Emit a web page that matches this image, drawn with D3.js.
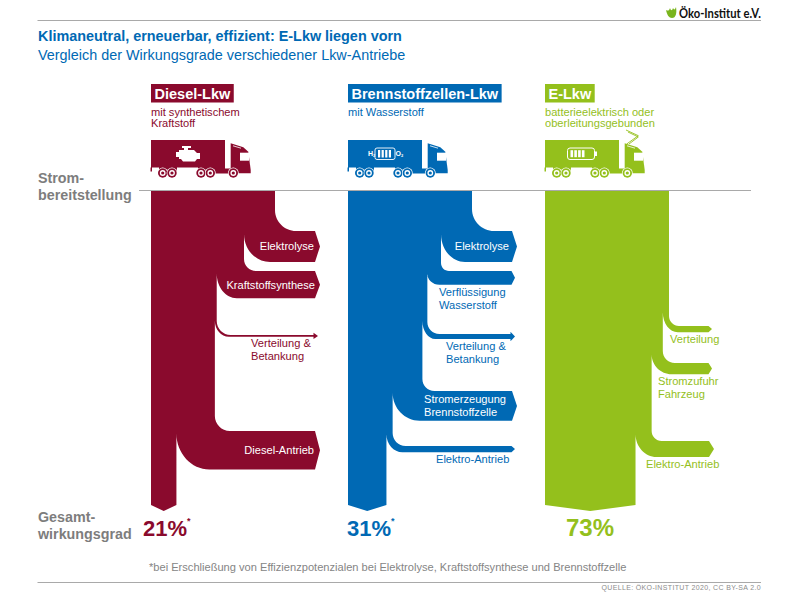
<!DOCTYPE html>
<html>
<head>
<meta charset="utf-8">
<script src="https://cdnjs.cloudflare.com/ajax/libs/d3/7.8.5/d3.min.js"></script>
<style>
html, body { margin: 0; padding: 0; background: #fff; }
svg { display: block; }
text { font-family: "Liberation Sans", Arial, sans-serif; }
</style>
</head>
<body>
<div id="chart"></div>
<script>
// Data. Losses are in percent of the energy put in,
// stages are the distance of each branch from the top of the stream.
const trucks = ['Diesel-Lkw', 'Brennstoffzellen-Lkw', 'E-Lkw'];
const truckNotes = ['mit synthetischem\nKraftstoff', 'mit Wasserstoff', 'batterieelektrisch oder\noberleitungsgebunden'];
const totals = ['21%', '31%', '73%'];

const dieselSteps = ['Elektrolyse', 'Kraftstoffsynthese', 'Verteilung &\nBetankung', 'Diesel-Antrieb'];
const dieselLosses = [25, 22, 1.5, 31];
const dieselStages = [40, 80, 144, 240];

const fuelCellSteps = ['Elektrolyse', 'Verflüssigung\nWasserstoff', 'Verteilung &\nBetankung', 'Stromerzeugung\nBrennstoffzelle', 'Elektro-Antrieb'];
const fuelCellLosses = [25, 11, 4, 24, 5];
const fuelCellStages = [40, 80, 143, 200, 255];

const electricSteps = ['Verteilung', 'Stromzufuhr\nFahrzeug', 'Elektro-Antrieb'];
const electricLosses = [5, 9, 13];
const electricStages = [135, 172, 250];

const width = 799, height = 598;
const blue = '#0069b4', red = '#8a0a2d', green = '#94c01c', grey = '#7d7d7d';

// layout of each column: curve radii [outer, inner x, inner y] and label placing [x, y, anchor, white]
const columns = [
    {
        color: red, steps: dieselSteps, losses: dieselLosses, stages: dieselStages,
        curves: [[21, 26, 28], [12, 20, 25], [14, 14, 16], [15, 33, 36]],
        labels: [[314, 250, 'end', 1], [315, 289, 'end', 1], [251, 347, 'start', 0], [314, 454, 'end', 1]],
        arrow: 2, starred: true, totalSize: 22, totalX: 143, starX: 187, iconKind: 'engine'
    },
    {
        color: blue, steps: fuelCellSteps, losses: fuelCellLosses, stages: fuelCellStages,
        curves: [[22, 24, 28], [8, 12, 11], [12, 13, 18], [12, 27, 28], [13, 16, 18]],
        labels: [[509, 250, 'end', 1], [439, 296, 'start', 0], [446, 350, 'start', 0], [424, 403, 'start', 1], [436, 463, 'start', 0]],
        arrow: 2, starred: true, totalSize: 22, totalX: 347, starX: 391, iconKind: 'fuelcell'
    },
    {
        color: green, steps: electricSteps, losses: electricLosses, stages: electricStages,
        curves: [[10, 15, 20], [12, 20, 20], [10, 21, 23]],
        labels: [[670, 343, 'start', 0], [658, 385, 'start', 0], [646, 468, 'start', 0]],
        arrow: -1, starred: false, totalSize: 24, totalX: 566, iconKind: 'battery'
    }
];

const svg = d3.select('#chart').append('svg')
    .attr('width', width)
    .attr('height', height);

// scales
const xCol = d3.scalePoint().domain(trucks).range([151, 545]);
const flow = d3.scaleLinear().domain([0, 100]).range([0, 124]);
const yStage = d3.scaleLinear().domain([0, 314]).range([191, 505]);

function addText(parent, str, x, y, size, color, opts) {
    opts = opts || {};
    const t = parent.append('text')
        .attr('x', x)
        .attr('y', y)
        .attr('font-size', size)
        .attr('fill', color)
        .attr('font-weight', opts.bold ? 'bold' : 'normal')
        .attr('text-anchor', opts.anchor || 'start');
    str.split('\n').forEach(function (line, i) {
        t.append('tspan')
            .attr('x', x)
            .attr('dy', i === 0 ? 0 : (opts.lead || 13))
            .text(line);
    });
    return t;
}

// header and rules
addText(svg, 'Klimaneutral, erneuerbar, effizient: E-Lkw liegen vorn', 38, 40.5, 14.4, blue, { bold: true });
addText(svg, 'Vergleich der Wirkungsgrade verschiedener Lkw-Antriebe', 38, 60, 14.4, blue);

svg.append('line').attr('x1', 37.5).attr('x2', 761).attr('y1', 20.5).attr('y2', 20.5).attr('stroke', '#a9a9a9').attr('stroke-width', 1);
svg.append('line').attr('x1', 139).attr('x2', 751).attr('y1', 190.5).attr('y2', 190.5).attr('stroke', '#a9a9a9').attr('stroke-width', 1);
svg.append('line').attr('x1', 37.5).attr('x2', 761).attr('y1', 582.5).attr('y2', 582.5).attr('stroke', '#a9a9a9').attr('stroke-width', 1);

// logo
svg.append('path')
    .attr('d', 'M666,10 C667,15 669,18 672,18 C676,18 677,13 676,7 C675,10 674,10 673,8 C672,11 671,11 670,8 C669,11 668,11 666,10 Z')
    .attr('fill', '#7ab51d');
addText(svg, 'Öko-Institut e.V.', 679, 18, 13, '#111', { bold: true })
    .style('font-family', 'Lato')
    .attr('textLength', 82)
    .attr('lengthAdjust', 'spacingAndGlyphs');

// row labels
addText(svg, 'Strom-\nbereitstellung', 38, 183, 14.3, grey, { bold: true, lead: 16.5 });
addText(svg, 'Gesamt-\nwirkungsgrad', 38, 522, 14.3, grey, { bold: true, lead: 16.5 });

// footer
addText(svg, '*bei Erschließung von Effizienzpotenzialen bei Elektrolyse, Kraftstoffsynthese und Brennstoffzelle', 149, 571, 11.1, '#858585');
addText(svg, 'QUELLE: ÖKO-INSTITUT 2020, CC BY-SA 2.0', 761, 590, 7, '#8c8c8c', { anchor: 'end' })
    .style('letter-spacing', '0.35px');

// Outline of one stream: runs down the right side, leaving along each branch and coming back
function streamPath(left, col) {
    const k = 0.55;
    const p = d3.path();
    let x = left + flow(100);
    p.moveTo(left, yStage(0));
    p.lineTo(x, yStage(0));
    col.losses.forEach(function (loss, i) {
        const t = flow(loss);
        const y0 = yStage(col.stages[i]);
        const y1 = y0 + t;
        const c = col.curves[i];
        const r = c[0], rx = c[1], ry = c[2];
        const xIn = x - t;
        const thin = t < 16;
        const tip = left + 169 - (thin ? 2 : 0);
        const shoulder = tip - (thin ? 3.5 : 5);
        p.lineTo(x, y0 - r);
        p.bezierCurveTo(x, y0 - r * (1 - k), x + r * (1 - k), y0, x + r, y0);
        if (i === col.arrow) {
            const headBase = tip - 4.5;
            const head = 2.2;
            p.lineTo(headBase, y0);
            p.lineTo(headBase, y0 - head);
            p.lineTo(tip, (y0 + y1) / 2);
            p.lineTo(headBase, y1 + head);
            p.lineTo(headBase, y1);
        } else {
            p.lineTo(shoulder, y0);
            p.lineTo(tip, (y0 + y1) / 2);
            p.lineTo(shoulder, y1);
        }
        p.lineTo(xIn + rx, y1);
        p.bezierCurveTo(xIn + rx * (1 - k), y1, xIn, y1 - ry * (1 - k), xIn, y1 - ry);
        x = xIn;
    });
    // what is left runs down to the end of the stream
    const bottom = yStage(314);
    p.lineTo(x, bottom);
    p.lineTo((left + x) / 2, bottom + 6);
    p.lineTo(left, bottom);
    p.closePath();
    return p.toString();
}

// Truck silhouette, drawn around the top left corner of the trailer
function drawTruck(g, color, kind) {
    // trailer with rear leg and axle housing
    g.append('path')
        .attr('d', 'M0,0 H74 V27.5 H26 V31 H8 V27.5 H1 V31.5 H-0.5 V27.5 H0 Z')
        .attr('fill', color);
    // chassis under the front of the trailer
    g.append('path')
        .attr('d', 'M47,27 H74 V28.5 H82 V33.5 H47 Z')
        .attr('fill', color);
    // cab
    g.append('path')
        .attr('d', 'M79.7,3.3 L92.3,7.3 L97.3,11.7 L99.7,30 V33.3 H79.7 Z')
        .attr('fill', color);
    g.append('rect').attr('x', 89).attr('y', 12.7).attr('width', 9).attr('height', 8).attr('fill', '#fff');
    g.append('line').attr('x1', 82).attr('x2', 90).attr('y1', 5.8).attr('y2', 8.2).attr('stroke', '#fff').attr('stroke-width', 0.8);
    [11.7, 21, 50, 59.3, 82.3].forEach(function (wx) {
        g.append('circle').attr('cx', wx).attr('cy', 33).attr('r', 5.4).attr('fill', '#fff');
        g.append('circle').attr('cx', wx).attr('cy', 33).attr('r', 4.7).attr('fill', color);
        g.append('circle').attr('cx', wx).attr('cy', 33).attr('r', 2.9).attr('fill', '#fff');
        g.append('circle').attr('cx', wx).attr('cy', 33).attr('r', 1.6).attr('fill', color);
    });
    if (kind === 'engine') {
        g.append('path')
            .attr('d', 'M25,12 H28 V10 H33 V8 H31 V6 H40 V8 H37 V10 H43 L46,13 H49 V19 H46 L44,21.5 H32 L30,19 H28 V17 H25 Z')
            .attr('fill', '#fff');
    } else if (kind === 'fuelcell') {
        g.append('rect').attr('x', 27).attr('y', 8).attr('width', 20).attr('height', 11.5).attr('rx', 2)
            .attr('fill', 'none').attr('stroke', '#fff').attr('stroke-width', 0.9);
        d3.range(4).forEach(function (n) {
            g.append('rect').attr('x', 30 + n * 3.6).attr('y', 10).attr('width', 2.2).attr('height', 7.5).attr('fill', '#fff');
        });
        addText(g, 'H', 20, 16, 7, '#fff', { bold: true });
        addText(g, '2', 25, 17, 4, '#fff', { bold: true });
        addText(g, 'O', 47.5, 16, 7, '#fff', { bold: true });
        addText(g, '2', 53, 17, 4, '#fff', { bold: true });
    } else {
        g.append('rect').attr('x', 22.5).attr('y', 8).attr('width', 27).attr('height', 11.5).attr('rx', 2.5)
            .attr('fill', 'none').attr('stroke', '#fff').attr('stroke-width', 1);
        g.append('rect').attr('x', 50).attr('y', 11.5).attr('width', 2).attr('height', 4.5).attr('fill', '#fff');
        d3.range(4).forEach(function (n) {
            g.append('rect').attr('x', 25.5 + n * 3.8).attr('y', 10.2).attr('width', 2.6).attr('height', 7).attr('fill', '#fff');
        });
        // pantograph
        g.append('path')
            .attr('d', 'M81.7,4 L93.3,-4.3 L81,-10 M84,4 L93.3,-3 L83,-8')
            .attr('fill', 'none').attr('stroke', color).attr('stroke-width', 0.9);
    }
}

// one column per truck type
const cols = svg.selectAll('g.column')
    .data(columns)
    .enter()
    .append('g')
    .attr('class', 'column');

cols.each(function (col, i) {
    const g = d3.select(this);
    const left = xCol(trucks[i]);

    // heading with coloured box behind it
    const head = addText(g, trucks[i], left + 3.5, 99, 14.5, '#fff', { bold: true });
    const box = head.node().getComputedTextLength();
    g.insert('rect', 'text')
        .attr('x', left)
        .attr('y', 84)
        .attr('width', box + 7)
        .attr('height', 18.5)
        .attr('fill', col.color);
    addText(g, truckNotes[i], left, 116, 11.1, col.color, { lead: 11 });

    drawTruck(g.append('g').attr('transform', 'translate(' + left + ',140)'), col.color, col.iconKind);

    g.append('path')
        .attr('d', streamPath(left, col))
        .attr('fill', col.color);

    col.steps.forEach(function (step, n) {
        const l = col.labels[n];
        addText(g, step, l[0], l[1], 11.1, l[3] ? '#fff' : col.color, { anchor: l[2], lead: 13 });
    });

    addText(g, totals[i], col.totalX, 536, col.totalSize, col.color, { bold: true });
    if (col.starred) {
        addText(g, '*', col.starX, 524, 9, col.color, { bold: true });
    }
});
</script>
</body>
</html>
